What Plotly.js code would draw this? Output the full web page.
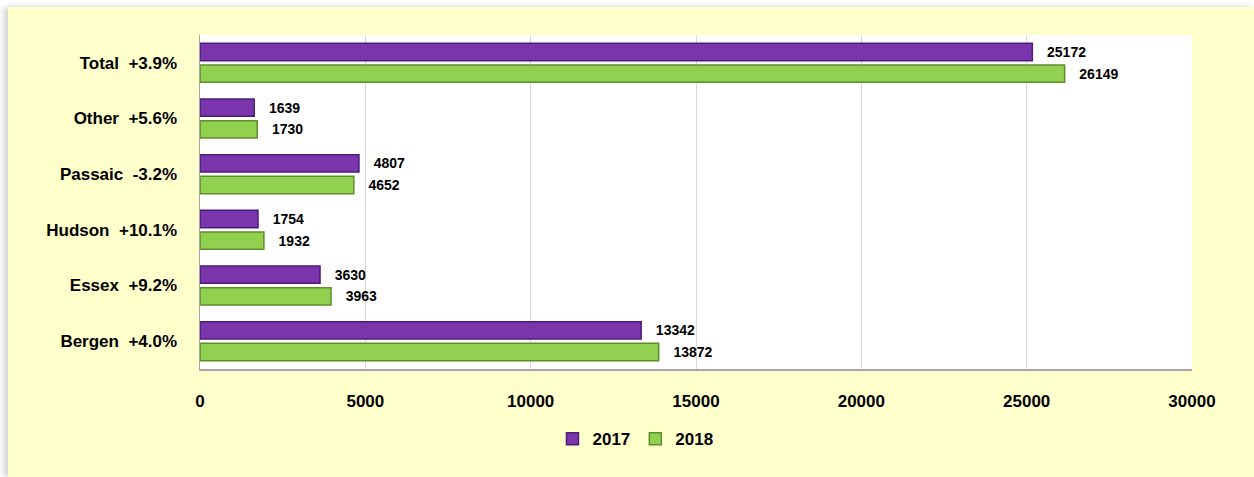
<!DOCTYPE html>
<html>
<head>
<meta charset="utf-8">
<script src="https://cdn.plot.ly/plotly-3.0.1.min.js"></script>
<style>
  html, body { margin: 0; padding: 0; background: #ffffff; width: 1254px; height: 477px; overflow: hidden; }
  #bg { position: absolute; left: 8px; top: 7px; right: 0; bottom: 0; background: #FFFFCC; box-shadow: -4px 0 6px rgba(0,0,0,0.18); }
  #chart { position: absolute; left: 0; top: 0; width: 1254px; height: 477px; }
</style>
</head>
<body>
<div id="bg"></div>
<div id="chart"></div>
<script>
const categories = ['Total\u00a0\u00a0+3.9%', 'Other\u00a0\u00a0+5.6%', 'Passaic\u00a0\u00a0-3.2%', 'Hudson\u00a0\u00a0+10.1%', 'Essex\u00a0\u00a0+9.2%', 'Bergen\u00a0\u00a0+4.0%'];
const values2017 = [25172, 1639, 4807, 1754, 3630, 13342];
const values2018 = [26149, 1730, 4652, 1932, 3963, 13872];
const seriesNames = ['2017', '2018'];
const xTicks = [0, 5000, 10000, 15000, 20000, 25000, 30000];

const FONT = '"Liberation Sans", Arial, sans-serif';

function barTrace(name, vals, fill, edge) {
  return {
    type: 'bar', orientation: 'h', name: name,
    y: categories, x: vals,
    marker: { color: fill, line: { color: edge, width: 1.5 } },
    text: vals.map(v => '\u00a0\u00a0\u00a0' + v),
    textposition: 'outside',
    constraintext: 'none',
    cliponaxis: false,
    textfont: { family: FONT, size: 14, color: '#000', weight: 'bold' },
    hoverinfo: 'x+name'
  };
}

const data = [
  barTrace(seriesNames[0], values2017, '#7a35ad', '#4f1c78'),
  barTrace(seriesNames[1], values2018, '#92d050', '#5f8f2c')
];

const layout = {
  width: 1254, height: 477,
  margin: { l: 200, r: 62, t: 35, b: 108 },
  paper_bgcolor: 'rgba(0,0,0,0)',
  plot_bgcolor: '#ffffff',
  barmode: 'group',
  bargap: 0.22,
  bargroupgap: 0.2,
  showlegend: true,
  legend: {
    orientation: 'h', x: 0.439, xanchor: 'center', y: -0.21, yanchor: 'middle',
    font: { family: FONT, size: 17, color: '#000', weight: 'bold' },
    bgcolor: 'rgba(0,0,0,0)', itemwidth: 30
  },
  xaxis: {
    range: [0, 30000], tickvals: xTicks, ticktext: xTicks.map(String),
    showgrid: true, gridcolor: '#d9d9d9', gridwidth: 1,
    zeroline: false, showline: true, linecolor: '#a6a6a6', linewidth: 1.5,
    ticks: '', ticklabelstandoff: 16,
    tickfont: { family: FONT, size: 17, color: '#000', weight: 'bold' },
    fixedrange: true
  },
  yaxis: {
    type: 'category', autorange: 'reversed',
    showgrid: false, zeroline: false, showline: true, linecolor: '#a6a6a6', linewidth: 1.5,
    ticks: '', ticklabelstandoff: 18,
    tickfont: { family: FONT, size: 17, color: '#000', weight: 'bold' },
    fixedrange: true
  }
};

Plotly.newPlot('chart', data, layout, { displayModeBar: false, staticPlot: true });
</script>
</body>
</html>
